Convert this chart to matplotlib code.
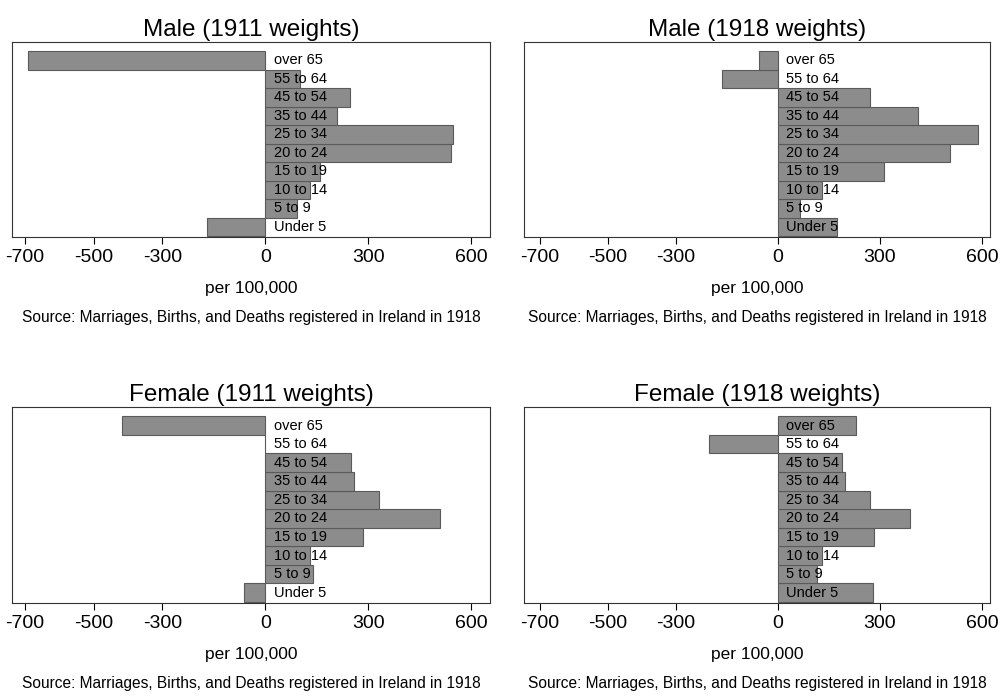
import matplotlib
matplotlib.use("Agg")
import matplotlib.pyplot as plt

plt.rcParams['font.family'] = ['Liberation Sans', 'DejaVu Sans']
plt.rcParams['axes.unicode_minus'] = False

ages = ['Under 5', '5 to 9', '10 to 14', '15 to 19', '20 to 24',
        '25 to 34', '35 to 44', '45 to 54', '55 to 64', 'over 65']

male_1911 = [-169, 93, 131, 160, 540, 548, 210, 248, 102, -690]
male_1918 = [174, 65, 129, 312, 506, 588, 412, 270, -165, -56]
female_1911 = [-61, 140, 131, 286, 510, 332, 260, 251, 0, -417]
female_1918 = [279, 115, 129, 282, 388, 270, 197, 188, -203, 229]

panels = [
    ('Male (1911 weights)', male_1911, [0.012, 0.660, 0.4775, 0.280], (-738, 655)),
    ('Male (1918 weights)', male_1918, [0.5235, 0.660, 0.4655, 0.280], (-747, 624)),
    ('Female (1911 weights)', female_1911, [0.012, 0.135, 0.4775, 0.281], (-738, 655)),
    ('Female (1918 weights)', female_1918, [0.5235, 0.135, 0.4655, 0.281], (-747, 624)),
]

source = 'Source: Marriages, Births, and Deaths registered in Ireland in 1918'

fig = plt.figure(figsize=(10.01, 6.97), dpi=100)
for title, vals, pos, xl in panels:
    ax = fig.add_axes(pos)
    y = range(len(ages))
    ax.barh(y, vals, height=1.0, color='#8c8c8c', edgecolor='#5a5a5a', linewidth=0.8)
    for i, lab in enumerate(ages):
        ax.text(25, i, lab, va='center', ha='left', fontsize=10.5)
    ax.set_xlim(*xl)
    ax.set_ylim(-0.55, 10.0)
    ax.set_yticks([])
    ax.set_xticks([-700, -500, -300, 0, 300, 600])
    ax.tick_params(axis='x', labelsize=14, direction='out', length=5)
    ax.set_title(title, fontsize=17.5, pad=4)
    ax.set_xlabel('per 100,000', fontsize=12.5, labelpad=11)
    ax.text(0.5, -0.375, source, transform=ax.transAxes, ha='center', va='top', fontsize=11.2)
    for s in ax.spines.values():
        s.set_color('#333333')

fig.savefig('out.png', dpi=100)
